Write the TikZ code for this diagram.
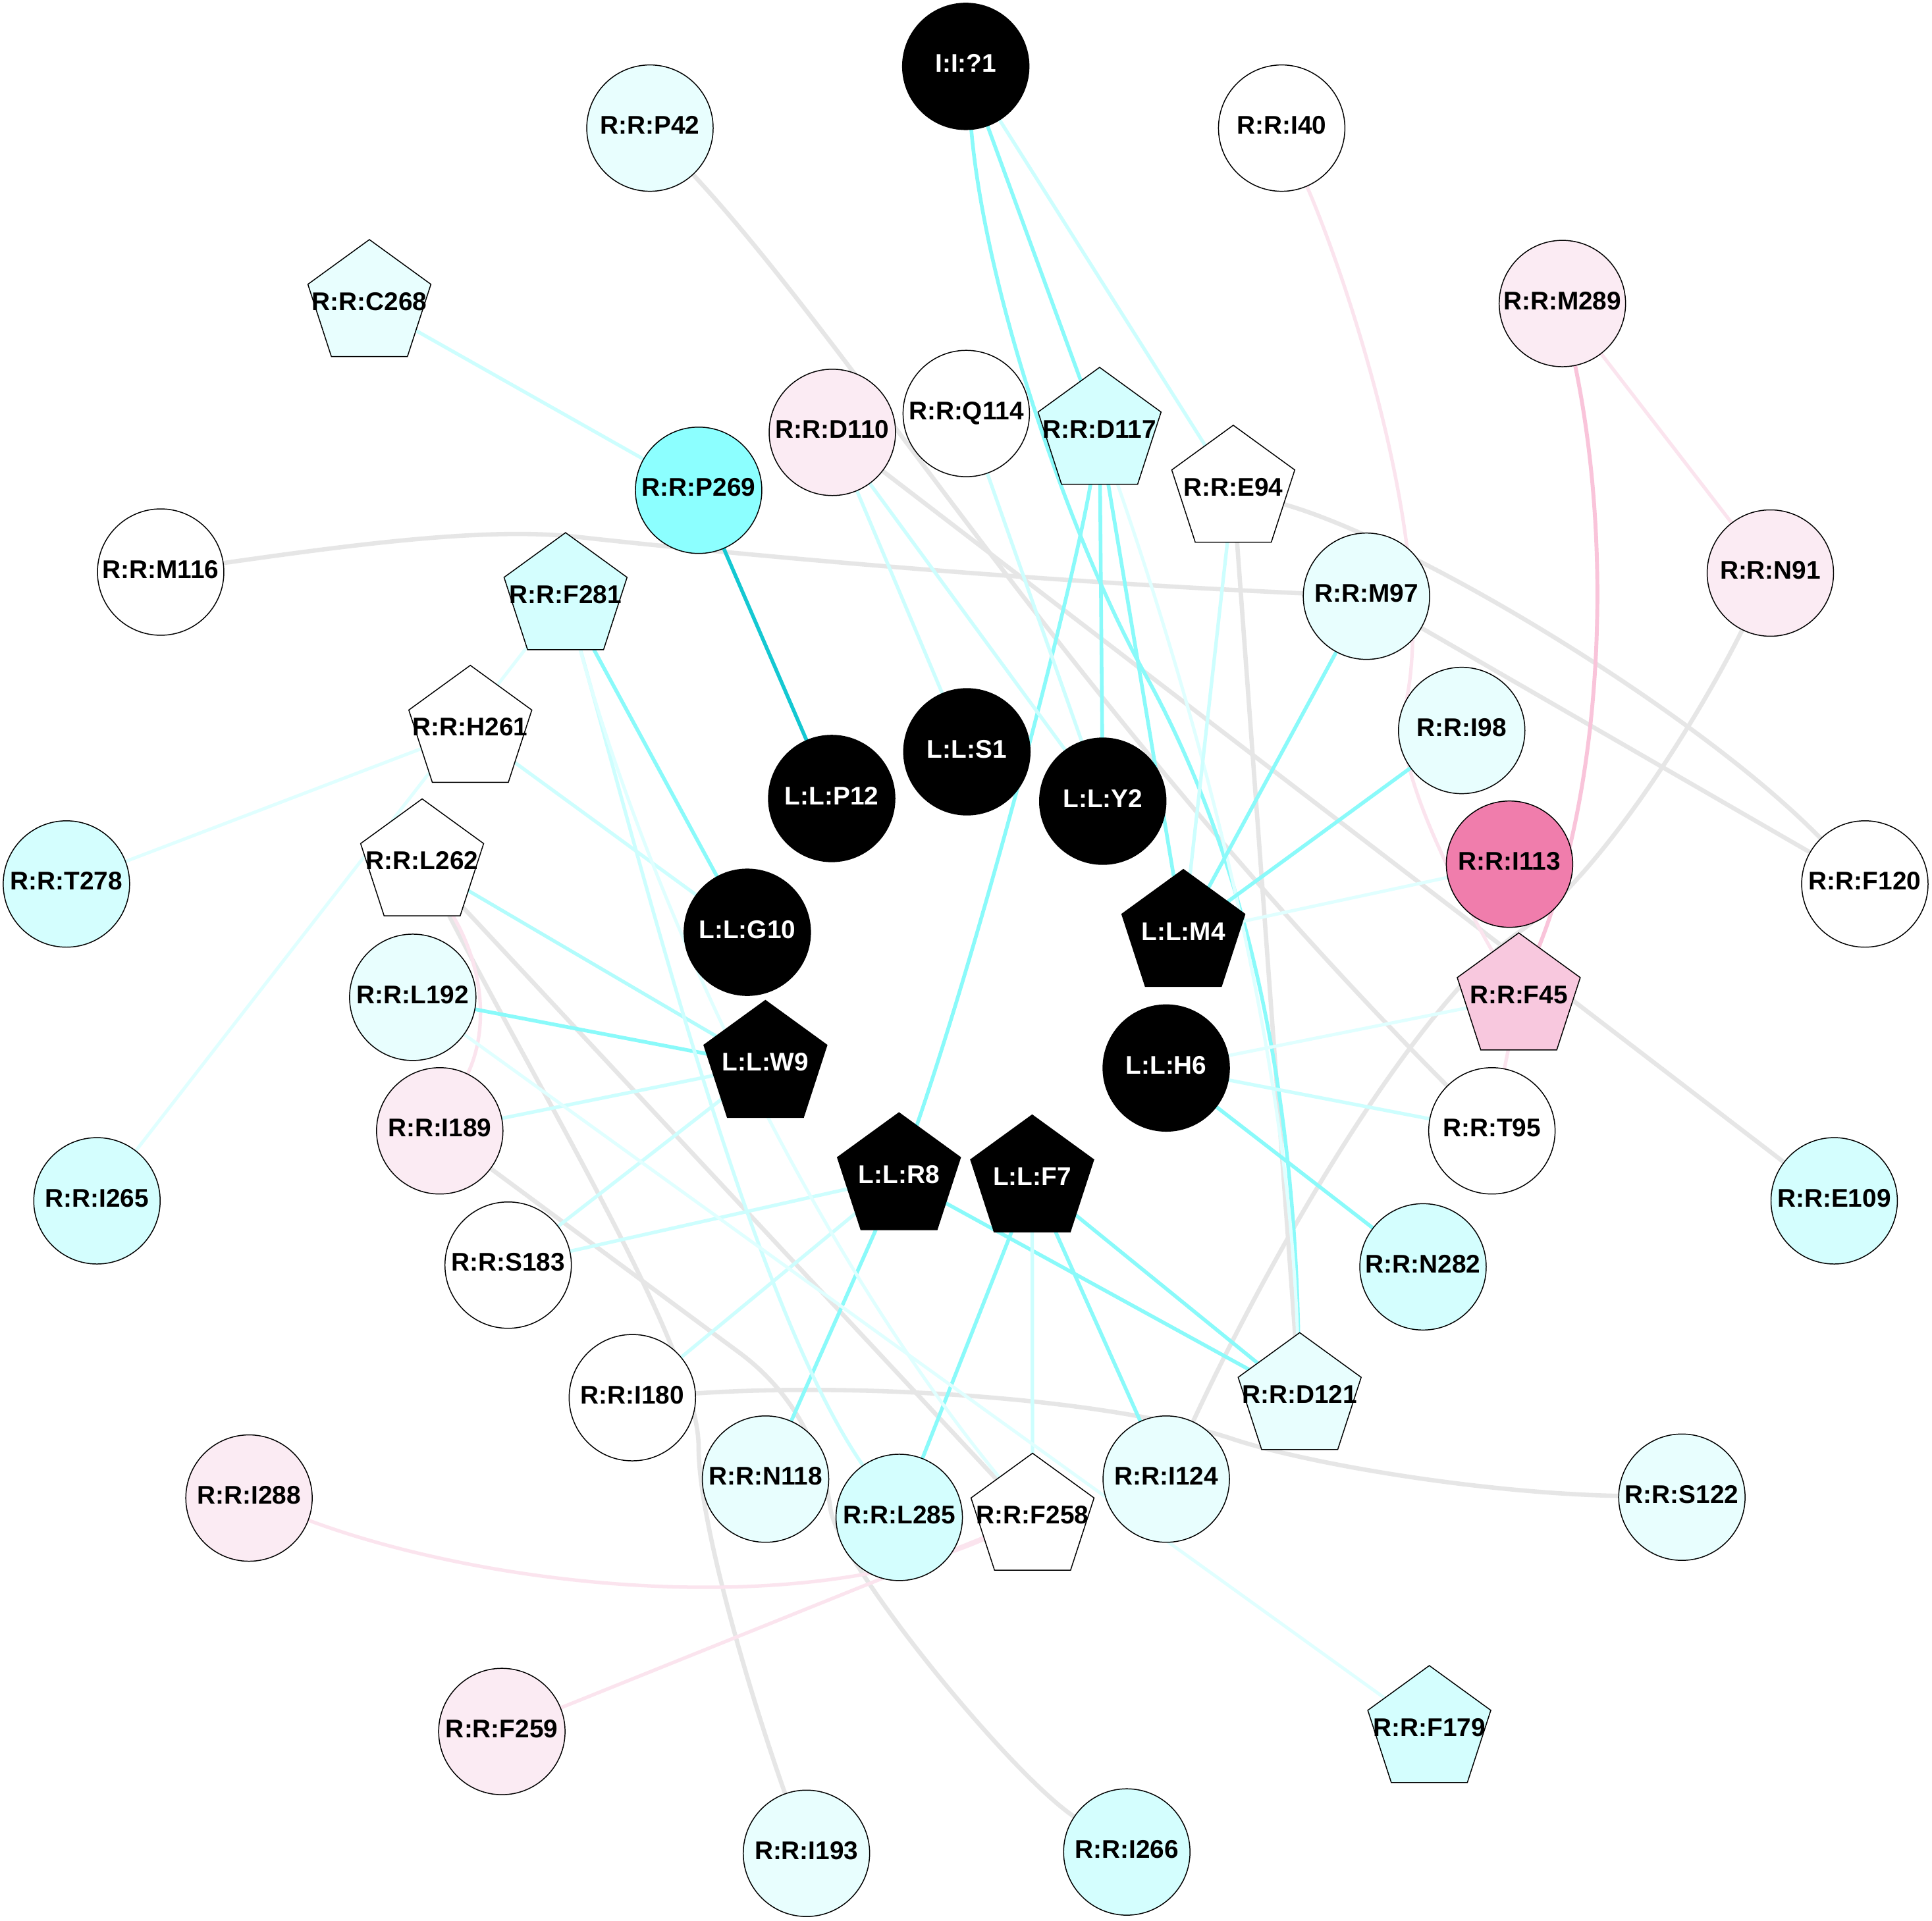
\documentclass[tikz,border=0pt]{standalone}
\usepackage{fontspec}
\setmainfont{Liberation Sans}
\usetikzlibrary{shapes.geometric}
\pgfdeclarelayer{bglayer}
\pgfdeclarelayer{edgelayer}
\pgfsetlayers{bglayer,edgelayer,main}
\definecolor{egray}{RGB}{230,230,230}
\definecolor{ecyanm}{RGB}{138,250,250}
\definecolor{ecyanlm}{RGB}{178,252,252}
\definecolor{ecyanl}{RGB}{205,254,254}
\definecolor{ecyanvl}{RGB}{224,255,255}
\definecolor{ecyand}{RGB}{20,200,210}
\definecolor{epinkm}{RGB}{249,196,218}
\definecolor{epinkl}{RGB}{251,228,238}
\definecolor{fcvl}{RGB}{232,254,254}
\definecolor{fcl}{RGB}{212,254,254}
\definecolor{fcm}{RGB}{140,255,255}
\definecolor{fpkl}{RGB}{251,235,243}
\definecolor{fpkm}{RGB}{248,200,222}
\definecolor{fpkd}{RGB}{240,125,172}
\newcommand{\nlbl}[1]{\raisebox{-2.77pt}[0pt][0pt]{\makebox[0pt]{#1}}}
\begin{document}
\begin{tikzpicture}[x=0.02cm, y=-0.02cm,
  nd/.style={inner sep=0pt, outer sep=0pt, draw=black, line width=0.45pt, font=\fontsize{11.8}{14}\selectfont\bfseries},
  cnode/.style={nd, circle, minimum size=2.052cm},
  pnode/.style={nd, regular polygon, regular polygon sides=5, minimum size=2.1cm},
  lig/.style={fill=black, text=white},
  egr/.style={draw=egray, line width=2.0pt},
  ecm/.style={draw=ecyanm, line width=1.7pt},
  eclm/.style={draw=ecyanlm, line width=1.6pt},
  ecl/.style={draw=ecyanl, line width=1.6pt},
  ecvl/.style={draw=ecyanvl, line width=1.5pt},
  ecd/.style={draw=ecyand, line width=1.7pt},
  epm/.style={draw=epinkm, line width=1.8pt},
  epl/.style={draw=epinkl, line width=1.6pt}]
\useasboundingbox (0,0) rectangle (1568,1559);
\begin{pgfonlayer}{bglayer}
\fill[white] (0,0) rectangle (1568,1559);
\end{pgfonlayer}

% nodes
\node[cnode, lig] (I1) at (783.8,53.9) {\nlbl{I:I:?1}};
\node[cnode, fill=fcvl] (P42) at (527.5,104) {\nlbl{R:R:P42}};
\node[cnode, fill=white] (I40) at (1040.2,104) {\nlbl{R:R:I40}};
\node[pnode, fill=fcvl] (C268) at (299.8,247.0) {\nlbl{R:R:C268}};
\node[cnode, fill=fpkl] (M289) at (1268,246.4) {\nlbl{R:R:M289}};
\node[cnode, fill=fpkl] (D110) at (675.5,351) {\nlbl{R:R:D110}};
\node[cnode, fill=white] (Q114) at (784.2,335.7) {\nlbl{R:R:Q114}};
\node[pnode, fill=fcl] (D117) at (892.4,350.7) {\nlbl{R:R:D117}};
\node[pnode, fill=white] (E94) at (1000.9,397.7) {\nlbl{R:R:E94}};
\node[cnode, fill=fcm] (P269) at (567,398) {\nlbl{R:R:P269}};
\node[cnode, fill=white] (M116) at (130.4,464.4) {\nlbl{R:R:M116}};
\node[pnode, fill=fcl] (F281) at (459,484.9) {\nlbl{R:R:F281}};
\node[cnode, fill=fcvl] (M97) at (1109,484) {\nlbl{R:R:M97}};
\node[cnode, fill=fpkl] (N91) at (1436.8,465.2) {\nlbl{R:R:N91}};
\node[pnode, fill=white] (H261) at (381.7,592.6) {\nlbl{R:R:H261}};
\node[cnode, fill=fcvl] (I98) at (1186.3,593) {\nlbl{R:R:I98}};
\node[cnode, lig] (S1) at (784.7,610.3) {\nlbl{L:L:S1}};
\node[cnode, lig] (P12) at (675,648.2) {\nlbl{L:L:P12}};
\node[cnode, lig] (Y2) at (895,650.4) {\nlbl{L:L:Y2}};
\node[cnode, fill=fcl] (T278) at (53.9,717.6) {\nlbl{R:R:T278}};
\node[pnode, fill=white] (L262) at (342.6,701) {\nlbl{R:R:L262}};
\node[cnode, fill=fpkd] (I113) at (1225.1,701.5) {\nlbl{R:R:I113}};
\node[cnode, fill=white] (F120) at (1513.5,717.6) {\nlbl{R:R:F120}};
\node[cnode, lig] (G10) at (606.5,756.8) {\nlbl{L:L:G10}};
\node[pnode, lig] (M4) at (960.4,758.3) {\nlbl{L:L:M4}};
\node[cnode, fill=fcvl] (L192) at (335,809.6) {\nlbl{R:R:L192}};
\node[pnode, fill=fpkm] (F45) at (1232.6,809.8) {\nlbl{R:R:F45}};
\node[pnode, lig] (W9) at (621.2,864.6) {\nlbl{L:L:W9}};
\node[cnode, lig] (H6) at (946.5,867) {\nlbl{L:L:H6}};
\node[cnode, fill=fpkl] (I189) at (356.9,918) {\nlbl{R:R:I189}};
\node[cnode, fill=white] (T95) at (1210.8,918) {\nlbl{R:R:T95}};
\node[cnode, fill=fcl] (I265) at (78.7,974.8) {\nlbl{R:R:I265}};
\node[cnode, fill=fcl] (E109) at (1488.6,974.8) {\nlbl{R:R:E109}};
\node[pnode, lig] (R8) at (729.6,955.8) {\nlbl{L:L:R8}};
\node[pnode, lig] (F7) at (837.7,957.6) {\nlbl{L:L:F7}};
\node[cnode, fill=white] (S183) at (412.4,1027) {\nlbl{R:R:S183}};
\node[cnode, fill=fcl] (N282) at (1154.9,1028.4) {\nlbl{R:R:N282}};
\node[cnode, fill=white] (I180) at (513.2,1134.6) {\nlbl{R:R:I180}};
\node[pnode, fill=fcvl] (D121) at (1054.8,1134.3) {\nlbl{R:R:D121}};
\node[cnode, fill=fcvl] (N118) at (621.3,1200.7) {\nlbl{R:R:N118}};
\node[cnode, fill=fcvl] (I124) at (946.5,1200.7) {\nlbl{R:R:I124}};
\node[cnode, fill=fpkl] (I288) at (202.1,1216.1) {\nlbl{R:R:I288}};
\node[cnode, fill=fcvl] (S122) at (1365,1215.4) {\nlbl{R:R:S122}};
\node[cnode, fill=fcl] (L285) at (729.8,1231.8) {\nlbl{R:R:L285}};
\node[pnode, fill=white] (F258) at (838,1232.2) {\nlbl{R:R:F258}};
\node[cnode, fill=fpkl] (F259) at (407.3,1405.6) {\nlbl{R:R:F259}};
\node[pnode, fill=fcl] (F179) at (1160,1404.6) {\nlbl{R:R:F179}};
\node[cnode, fill=fcvl] (I193) at (654.5,1504.5) {\nlbl{R:R:I193}};
\node[cnode, fill=fcl] (I266) at (914.5,1503.4) {\nlbl{R:R:I266}};

% edges
\begin{pgfonlayer}{edgelayer}
% gray
\draw[egr] (M116) .. controls (300,440) and (400,428) .. (470,436) .. controls (560,446) and (800,470) .. (M97);
\draw[egr] (P42) .. controls (700,290) and (870,575) .. (T95);
\draw[egr] (D110) -- (E109);
\draw[egr] (E94) .. controls (1150,440) and (1380,580) .. (F120);
\draw[egr] (M97) -- (F120);
\draw[egr] (E94) -- (D121);
\draw[egr] (N91) .. controls (1380,580) and (1300,710) .. (1232.9,756.6) .. controls (1152.9,812.6) and (1040,1000) .. (I124);
\draw[egr] (L262) .. controls (452.6,912.7) and (567,1100) .. (567,1175) .. controls (567,1240) and (614.5,1392.5) .. (I193);
\draw[egr] (L262) -- (F258);
\draw[egr] (I189) -- (600,1098) .. controls (655,1138.7) and (670,1195) .. (674,1225) .. controls (681,1270) and (820,1440) .. (I266);
\draw[egr] (I180) .. controls (700,1122) and (900,1135) .. (1000,1168) .. controls (1060,1188) and (1200,1212) .. (S122);
% pink
\draw[epl] (M289) -- (N91);
\draw[epm] (M289) .. controls (1310,450) and (1300,640) .. (F45);
\draw[epl] (I40) .. controls (1095,230.5) and (1168.8,455) .. (1140,575) .. controls (1130.4,615) and (1170,700) .. (F45);
\draw[epl] (F45) -- (T95);
\draw[epl] (L262) .. controls (395,790) and (395,840) .. (I189);
\draw[epl] (I288) .. controls (400,1290) and (650,1315) .. (F258);
\draw[epl] (F259) -- (F258);
% cyan
\draw[ecl] (I1) -- (E94);
\draw[ecm] (I1) -- (D117);
\draw[ecm] (I1) .. controls (800,240) and (870,440) .. (929.3,547.2) .. controls (1018.3,708) and (1050,900) .. (D121);
\draw[ecvl] (D117) .. controls (975,590) and (1045,850) .. (D121);
\draw[ecm] (D117) .. controls (870,480) and (800,750) .. (R8);
\draw[ecm] (D117) -- (Y2);
\draw[ecm] (D117) -- (M4);
\draw[ecl] (Q114) -- (Y2);
\draw[ecl] (D110) -- (S1);
\draw[ecl] (D110) -- (Y2);
\draw[ecd] (P269) -- (P12);
\draw[ecl] (C268) -- (P269);
\draw[ecl] (E94) -- (M4);
\draw[ecm] (M97) -- (M4);
\draw[ecm] (I98) -- (M4);
\draw[ecvl] (I113) -- (M4);
\draw[ecvl] (F45) -- (H6);
\draw[ecl] (T95) -- (H6);
\draw[ecm] (N282) -- (H6);
\draw[ecm] (R8) -- (D121);
\draw[ecm] (F7) -- (D121);
\draw[ecm] (F7) -- (L285);
\draw[ecm] (F7) -- (I124);
\draw[ecl] (F7) -- (F258);
\draw[ecm] (R8) -- (N118);
\draw[ecl] (R8) -- (S183);
\draw[ecl] (R8) -- (I180);
\draw[ecm] (L192) -- (W9);
\draw[eclm] (L262) -- (W9);
\draw[ecl] (I189) -- (W9);
\draw[ecl] (S183) -- (W9);
\draw[ecm] (F281) -- (G10);
\draw[ecl] (H261) -- (G10);
\draw[ecvl] (F281) -- (I265);
\draw[ecvl] (H261) -- (T278);
\draw[ecl] (F281) .. controls (520,700) and (610,1060) .. (L285);
\draw[ecvl] (F281) .. controls (530,740) and (660,1015) .. (F258);
\draw[ecvl] (L192) -- (F179);
\end{pgfonlayer}
\end{tikzpicture}
\end{document}
